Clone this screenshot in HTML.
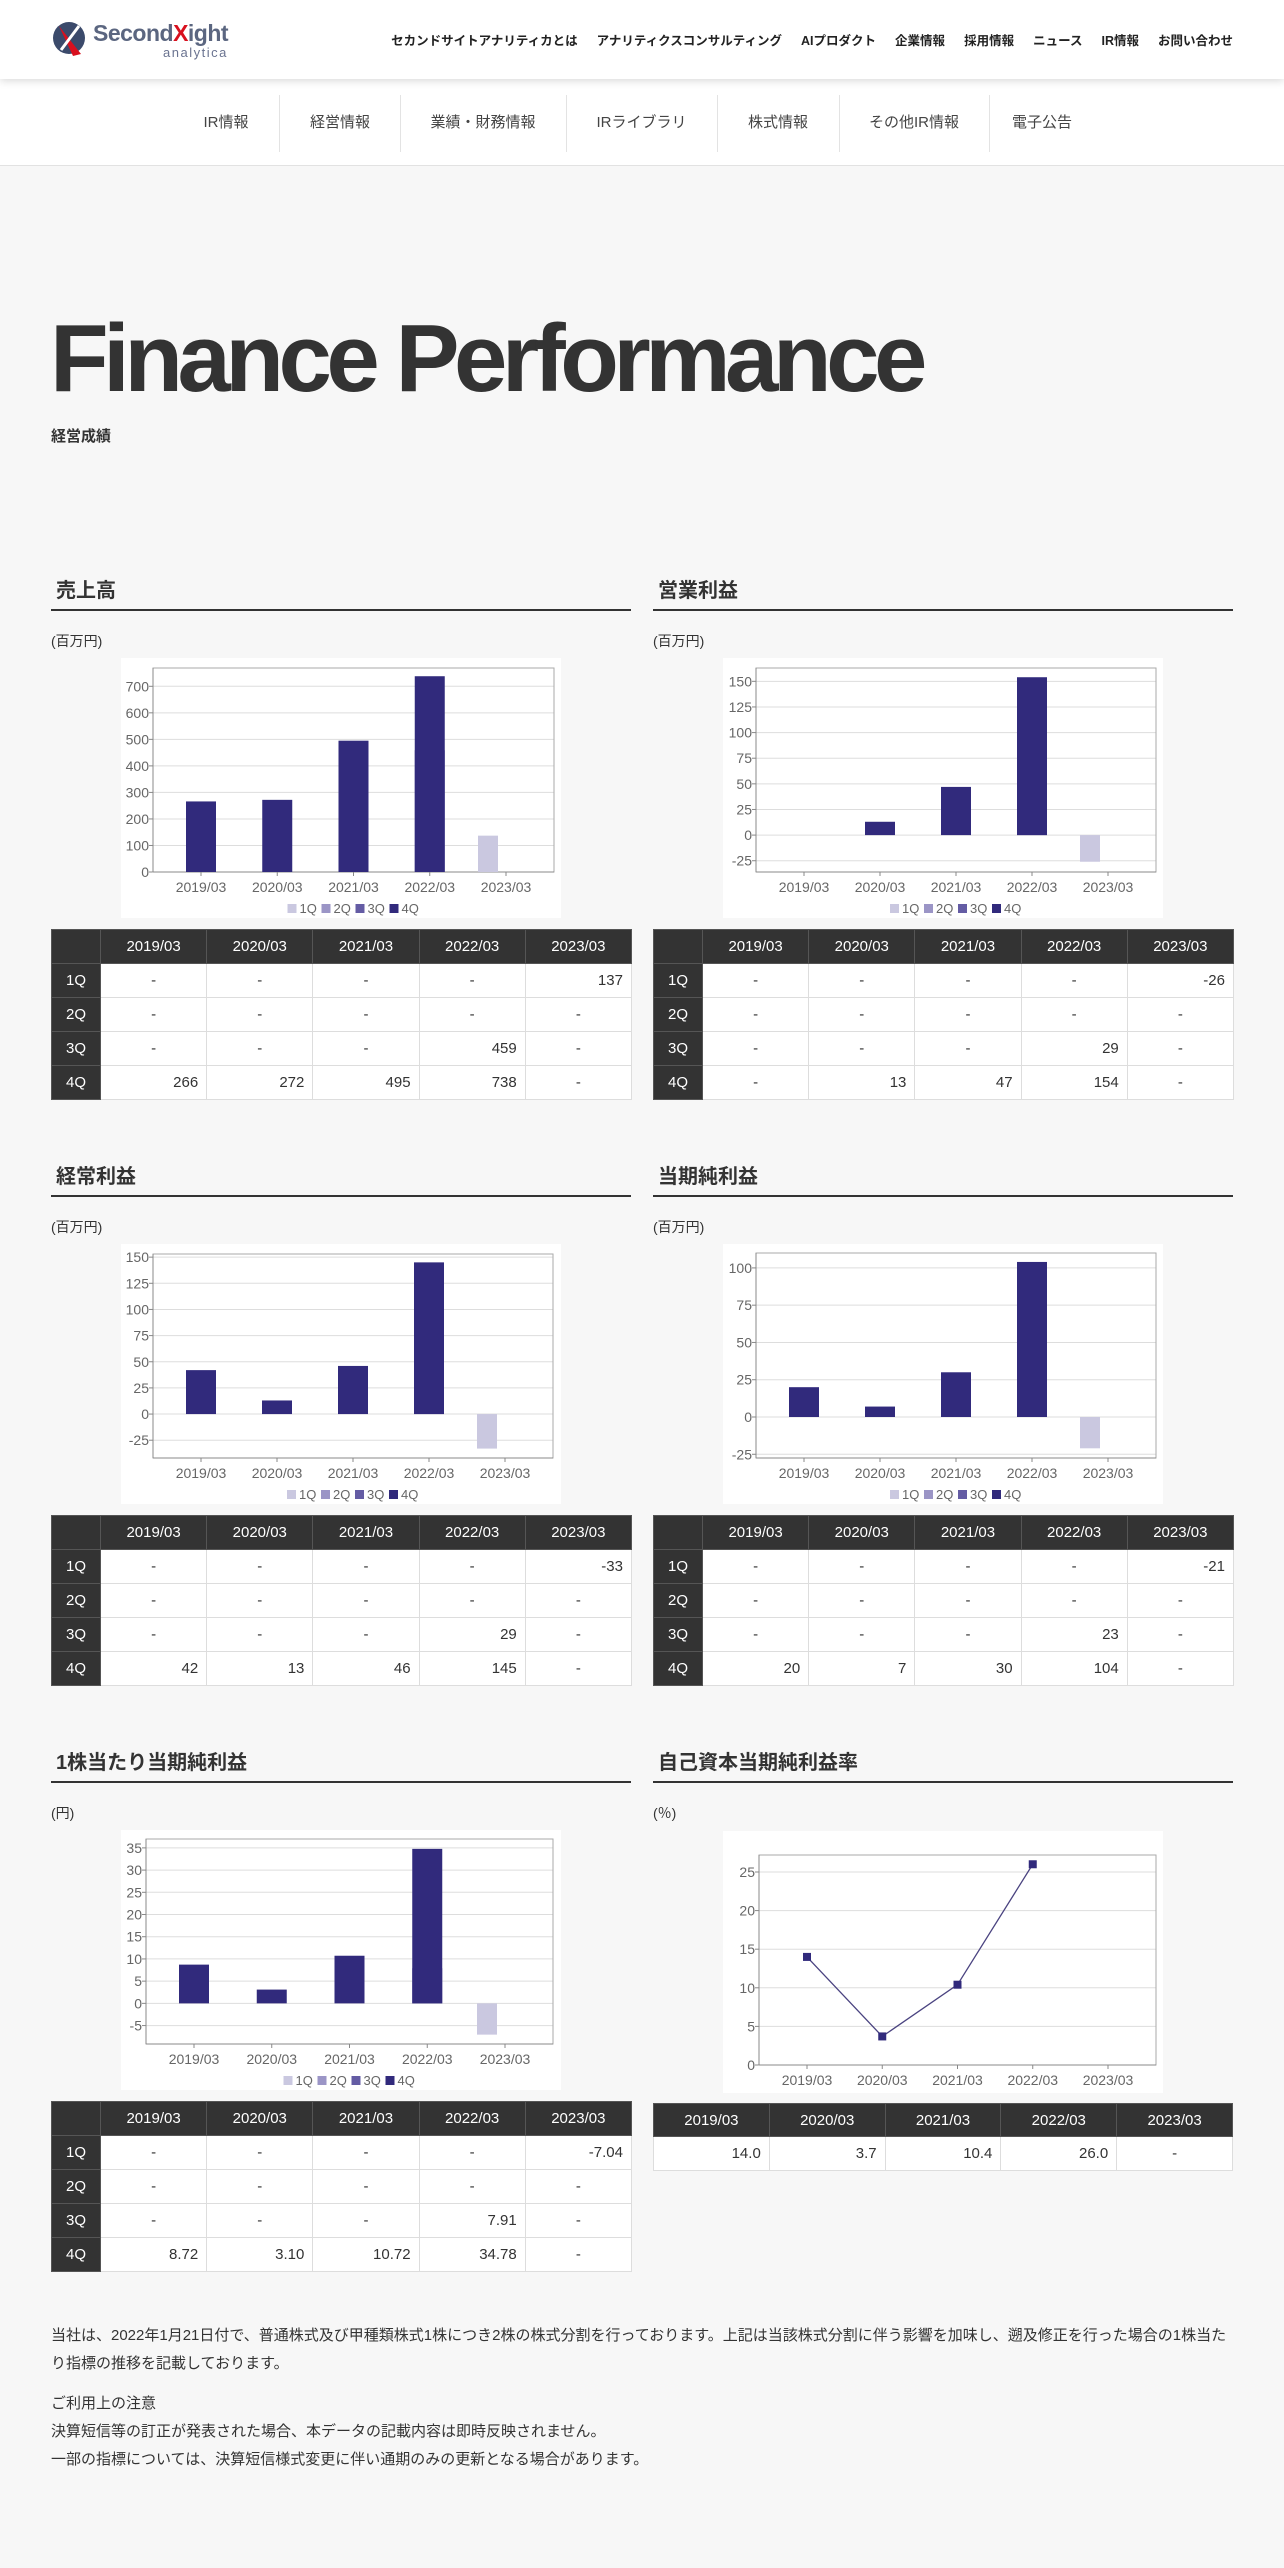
<!DOCTYPE html>
<html lang="ja"><head><meta charset="utf-8"><title>Finance Performance</title>
<style>
*{box-sizing:border-box;margin:0;padding:0}
body{width:1284px;height:2568px;background:#f7f7f7;font-family:"Liberation Sans","Noto Sans CJK JP",sans-serif;color:#333;position:relative;overflow:hidden}
.abs{position:absolute}
#hdr{left:0;top:0;width:1284px;height:79px;background:#fff;box-shadow:0 2px 8px rgba(0,0,0,.15);z-index:2}
#gnav{position:absolute;right:51px;top:30px;display:flex;gap:19px;font-size:12.5px;font-weight:bold;color:#222}
#sub{left:0;top:79px;width:1284px;height:87px;background:#fff;border-bottom:1px solid #e2e2e2}
.si{position:absolute;top:0;height:87px;line-height:87px;font-size:15px;color:#444;text-align:center}
.sep{position:absolute;top:16px;width:1px;height:57px;background:#e3e3e3}
h1{position:absolute;left:50px;top:306px;font-size:96px;letter-spacing:-5.5px;font-weight:bold;color:#333;white-space:nowrap;line-height:1.1}
.h2{position:absolute;font-size:20px;font-weight:bold;color:#333;width:580px;height:35px;border-bottom:2px solid #333;padding-left:5px;line-height:30px}
.unit{position:absolute;font-size:14px;color:#333}
table{position:absolute;border-collapse:collapse;font-size:15px;table-layout:fixed}
td,th{border:1px solid #ddd;height:34px;padding:0 8px}
th{background:#333;color:#fff;font-weight:normal;text-align:center;border-color:#555}
td{background:#fff;color:#333;text-align:right}
td.d{text-align:center}
.foot{position:absolute;left:51px;width:1190px;font-size:15px;line-height:28px;color:#333}
svg text{font-family:"Liberation Sans",sans-serif}
</style></head><body>
<div id="hdr" class="abs">
 <div class="abs" style="left:51px;top:18px;width:190px;height:44px">
  <svg width="40" height="40" class="abs" style="left:0;top:2px"><circle cx="18" cy="18" r="16" fill="#3b4a6b"/><path d="M8 6 L30 34 L22 36 Z" fill="#d8101e"/><path d="M10 30 L28 6" stroke="#fff" stroke-width="3"/></svg>
  <div class="abs" style="left:42px;top:2px;font-size:23px;font-weight:bold;color:#5b6680;letter-spacing:-0.5px">Second<span style="color:#d8101e">X</span>ight</div>
  <div class="abs" style="left:112px;top:27px;font-size:13px;color:#6a7390;letter-spacing:1.5px">analytica</div>
 </div>
 <div id="gnav">
  <span>セカンドサイトアナリティカとは</span>
  <span>アナリティクスコンサルティング</span>
  <span>AIプロダクト</span>
  <span>企業情報</span>
  <span>採用情報</span>
  <span>ニュース</span>
  <span>IR情報</span>
  <span>お問い合わせ</span>
 </div>
</div>
<div id="sub" class="abs">
 <div class="si" style="left:186px;width:80px">IR情報</div>
 <div class="sep" style="left:279px"></div>
 <div class="si" style="left:290px;width:100px">経営情報</div>
 <div class="sep" style="left:400px"></div>
 <div class="si" style="left:405px;width:156px">業績・財務情報</div>
 <div class="sep" style="left:566px"></div>
 <div class="si" style="left:570px;width:143px">IRライブラリ</div>
 <div class="sep" style="left:717px"></div>
 <div class="si" style="left:720px;width:116px">株式情報</div>
 <div class="sep" style="left:839px"></div>
 <div class="si" style="left:842px;width:144px">その他IR情報</div>
 <div class="sep" style="left:989px"></div>
 <div class="si" style="left:992px;width:100px">電子公告</div>
</div>
<h1>Finance Performance</h1>
<div class="abs" style="left:51px;top:425px;font-size:15px;font-weight:bold">経営成績</div>

<div class="h2" style="left:51px;top:576px">売上高</div>
<div class="h2" style="left:653px;top:576px">営業利益</div>
<div class="h2" style="left:51px;top:1162px">経常利益</div>
<div class="h2" style="left:653px;top:1162px">当期純利益</div>
<div class="h2" style="left:51px;top:1748px">1株当たり当期純利益</div>
<div class="h2" style="left:653px;top:1748px">自己資本当期純利益率</div>
<div class="unit" style="left:51px;top:631px">(百万円)</div>
<div class="unit" style="left:653px;top:631px">(百万円)</div>
<div class="unit" style="left:51px;top:1217px">(百万円)</div>
<div class="unit" style="left:653px;top:1217px">(百万円)</div>
<div class="unit" style="left:51px;top:1803px">(円)</div>
<div class="unit" style="left:653px;top:1803px">(％)</div>

<svg id="charts" class="abs" style="left:0;top:0" width="1284" height="2568"></svg>
<div id="tables"></div>

<div class="foot" style="top:2322px">当社は、2022年1月21日付で、普通株式及び甲種類株式1株につき2株の株式分割を行っております。上記は当該株式分割に伴う影響を加味し、遡及修正を行った場合の1株当たり指標の推移を記載しております。</div>
<div class="foot" style="top:2390px">ご利用上の注意<br>決算短信等の訂正が発表された場合、本データの記載内容は即時反映されません。<br>一部の指標については、決算短信様式変更に伴い通期のみの更新となる場合があります。</div>

<script>
const categories = ["2019/03","2020/03","2021/03","2022/03","2023/03"];
const quarters = ["1Q","2Q","3Q","4Q"];
const sales1Q = [null,null,null,null,137];
const sales2Q = [null,null,null,null,null];
const sales3Q = [null,null,null,459,null];
const sales4Q = [266,272,495,738,null];
const op1Q = [null,null,null,null,-26];
const op2Q = [null,null,null,null,null];
const op3Q = [null,null,null,29,null];
const op4Q = [null,13,47,154,null];
const ord1Q = [null,null,null,null,-33];
const ord2Q = [null,null,null,null,null];
const ord3Q = [null,null,null,29,null];
const ord4Q = [42,13,46,145,null];
const net1Q = [null,null,null,null,-21];
const net2Q = [null,null,null,null,null];
const net3Q = [null,null,null,23,null];
const net4Q = [20,7,30,104,null];
const eps1Q = [null,null,null,null,-7.04];
const eps2Q = [null,null,null,null,null];
const eps3Q = [null,null,null,7.91,null];
const eps4Q = [8.72,3.10,10.72,34.78,null];
const roeValues = [14.0,3.7,10.4,26.0,null];
const salesTicks = [0,100,200,300,400,500,600,700];
const opTicks = [-25,0,25,50,75,100,125,150];
const ordTicks = [-25,0,25,50,75,100,125,150];
const netTicks = [-25,0,25,50,75,100];
const epsTicks = [-5,0,5,10,15,20,25,30,35];
const roeTicks = [0,5,10,15,20,25];

const NS="http://www.w3.org/2000/svg";
const svg=document.getElementById('charts');
const qColors=["#cac8e0","#9b95c6","#645ca4","#312a7c"];
function mk(tag,attrs,parent){const e=document.createElementNS(NS,tag);for(const k in attrs)e.setAttribute(k,attrs[k]);(parent||svg).appendChild(e);return e;}

function frame(name,cfg,ticks){
  const g=mk('g',{});
  
  
  mk('rect',{x:cfg.bx,y:cfg.by,width:440,height:cfg.bh,fill:'#fff'},g);
  const y=v=>cfg.b-(v-cfg.min)/(cfg.max-cfg.min)*(cfg.b-cfg.t);
  const xc=i=>cfg.l+48+i*((cfg.r-cfg.l-96)/4);
  ticks.forEach(v=>{
    mk('line',{x1:cfg.l,x2:cfg.r,y1:y(v),y2:y(v),stroke:'#ddd','stroke-width':1},g);
    mk('line',{x1:cfg.l-4,x2:cfg.l,y1:y(v),y2:y(v),stroke:'#888'},g);
    const t=mk('text',{x:cfg.l-4,y:y(v)+5,'text-anchor':'end','font-size':14,fill:'#666'},g);
    t.textContent=v;
    
    
  });
  mk('rect',{x:cfg.l,y:cfg.t,width:cfg.r-cfg.l,height:cfg.b-cfg.t,fill:'none',stroke:'#aaa'},g);
  mk('line',{x1:cfg.l,x2:cfg.l,y1:cfg.t,y2:cfg.b,stroke:'#888'},g);
  mk('line',{x1:cfg.l,x2:cfg.r,y1:cfg.b,y2:cfg.b,stroke:'#888'},g);
  categories.forEach((c,i)=>{
    mk('line',{x1:xc(i),x2:xc(i),y1:cfg.b,y2:cfg.b+4,stroke:'#888'},g);
    const t=mk('text',{x:xc(i),y:cfg.b+20,'text-anchor':'middle','font-size':14,fill:'#666'},g);
    t.textContent=c;
    
    
  });
  return {g,y,xc};
}

function barChart(name,cfg,series,ticks){
  const {g,y,xc}=frame(name,cfg,ticks);
  const zero=y(0);
  series.forEach((s,q)=>{
    s.forEach((v,i)=>{
      if(v===null)return;
      const x0 = q===0 ? xc(i)-28 : xc(i)-15;
      const w = q===0 ? 20 : 30;
      const r=mk('rect',{x:x0,y:Math.min(y(v),zero),width:w,height:Math.abs(y(v)-zero),fill:qColors[q]},g);
      
      
    });
  });
  const mid=(cfg.l+cfg.r)/2;
  let lx=mid-66;
  quarters.forEach((q,k)=>{
    const le=mk('g',{},g);
    
    
    mk('rect',{x:lx,y:cfg.b+32,width:9,height:9,fill:qColors[k]},le);
    const t=mk('text',{x:lx+12,y:cfg.b+41,'font-size':13,fill:'#666'},le);
    t.textContent=q;
    lx+=34;
  });
}

function lineChart(name,cfg,vals,ticks){
  const {g,y,xc}=frame(name,cfg,ticks);
  const pts=[];
  vals.forEach((v,i)=>{if(v!==null)pts.push([xc(i),y(v)]);});
  const p=mk('polyline',{points:pts.map(p=>p.join(',')).join(' '),fill:'none',stroke:'#4a4380','stroke-width':1.3},g);
  
  
  vals.forEach((v,i)=>{
    if(v===null)return;
    const m=mk('rect',{x:xc(i)-4,y:y(v)-4,width:8,height:8,fill:'#312a7c'},g);
    
    
  });
}

barChart('sales',{bx:121,by:658,bh:260,l:153,t:668,r:554,b:872,min:0,max:769},[sales1Q,sales2Q,sales3Q,sales4Q],salesTicks);
barChart('operating-income',{bx:723,by:658,bh:260,l:756,t:668,r:1156,b:872,min:-36,max:163},[op1Q,op2Q,op3Q,op4Q],opTicks);
barChart('ordinary-income',{bx:121,by:1244,bh:260,l:153,t:1254,r:553,b:1458,min:-42,max:153},[ord1Q,ord2Q,ord3Q,ord4Q],ordTicks);
barChart('net-income',{bx:723,by:1244,bh:260,l:756,t:1253,r:1156,b:1458,min:-27.5,max:110},[net1Q,net2Q,net3Q,net4Q],netTicks);
barChart('eps',{bx:121,by:1830,bh:260,l:146,t:1839,r:553,b:2044,min:-9.15,max:37},[eps1Q,eps2Q,eps3Q,eps4Q],epsTicks);
lineChart('roe',{bx:723,by:1831,bh:262,l:759,t:1855,r:1156,b:2065,min:0,max:27.2},roeValues,roeTicks);

const tables=document.getElementById('tables');
function fmt(v,dec){return v===null?'-':(dec?v.toFixed(dec):String(v));}
function qTable(name,left,top,series,dec){
  const t=document.createElement('table');
  
  
  t.style.left=left+'px';t.style.top=top+'px';t.style.width='580px';
  let h='<colgroup><col style="width:49px">'+categories.map(()=>'<col style="width:106.2px">').join('')+'</colgroup>';
  h+='<tr><th></th>'+categories.map(c=>'<th>'+c+'</th>').join('')+'</tr>';
  series.forEach((s,q)=>{
    h+='<tr><th>'+quarters[q]+'</th>'+s.map(v=>'<td class="'+(v===null?'d':'')+'">'+fmt(v,dec)+'</td>').join('')+'</tr>';
  });
  t.innerHTML=h;tables.appendChild(t);
}
qTable('sales',51,929,[sales1Q,sales2Q,sales3Q,sales4Q],0);
qTable('operating-income',653,929,[op1Q,op2Q,op3Q,op4Q],0);
qTable('ordinary-income',51,1515,[ord1Q,ord2Q,ord3Q,ord4Q],0);
qTable('net-income',653,1515,[net1Q,net2Q,net3Q,net4Q],0);
qTable('eps',51,2101,[eps1Q,eps2Q,eps3Q,eps4Q],2);
const rt=document.createElement('table');


rt.style.left='653px';rt.style.top='2103px';rt.style.width='580px';
rt.innerHTML='<tr>'+categories.map(c=>'<th style="height:33px">'+c+'</th>').join('')+'</tr><tr>'+roeValues.map(v=>'<td class="'+(v===null?'d':'')+'">'+fmt(v,1)+'</td>').join('')+'</tr>';
tables.appendChild(rt);
</script>
</body></html>
